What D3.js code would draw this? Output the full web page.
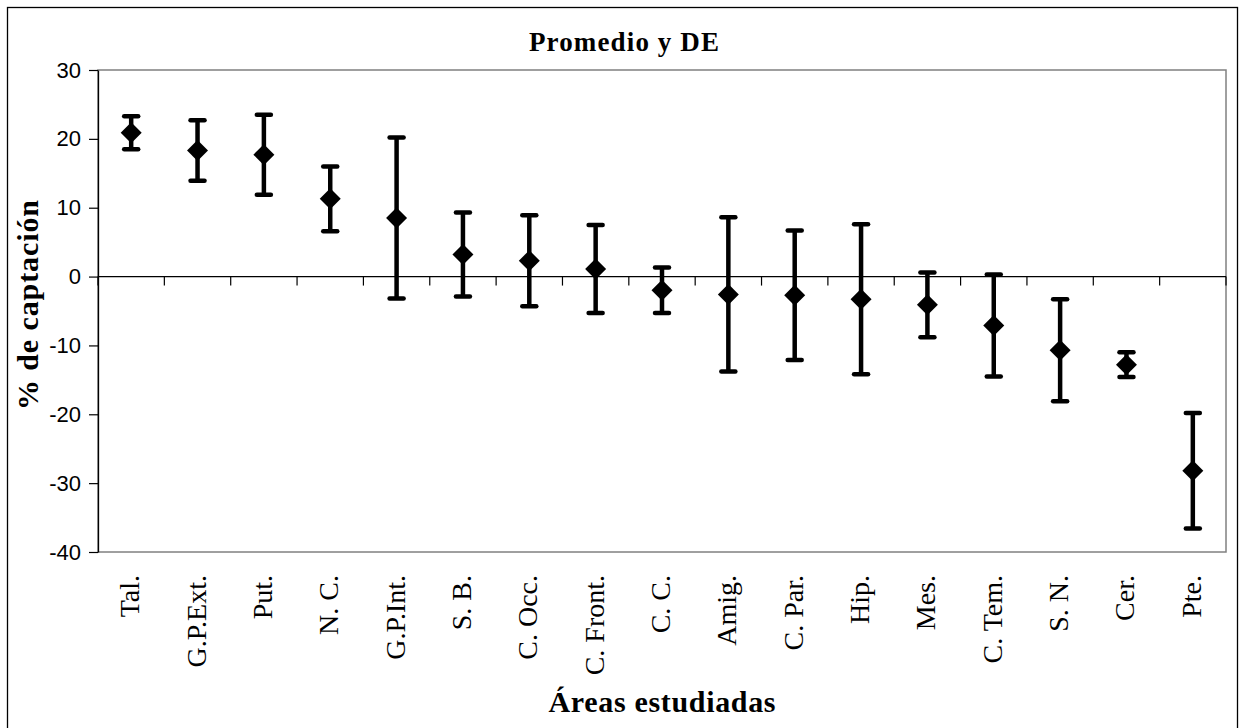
<!DOCTYPE html>
<meta charset="utf-8">
<script src="https://d3js.org/d3.v7.min.js"></script>
<style>
  body { margin: 0; background: #fff; }
</style>
<svg id="chart" width="1242" height="728"></svg>
<script>

  // data
  var categories = ["Tal.", "G.P.Ext.", "Put.", "N. C.", "G.P.Int.", "S. B.", "C. Occ.", "C. Front.", "C. C.",
                    "Amig.", "C. Par.", "Hip.", "Mes.", "C. Tem.", "S. N.", "Cer.", "Pte."];
  var means = [20.9, 18.3, 17.7, 11.3, 8.5, 3.2, 2.3, 1.1, -2.0, -2.6, -2.7, -3.3, -4.1, -7.1, -10.7, -12.8, -28.2];
  var sds   = [2.4, 4.4, 5.8, 4.7, 11.7, 6.1, 6.6, 6.4, 3.3, 11.2, 9.4, 10.9, 4.7, 7.4, 7.4, 1.8, 8.4];
  var yTicks = [30, 20, 10, 0, -10, -20, -30, -40];

  var svg = d3.select("#chart");

  var plotLeft = 98, plotRight = 1226, plotTop = 70, plotBottom = 552;
  var serif = "'Liberation Serif', 'Times New Roman', serif";

  var x = d3.scaleBand()
      .domain(categories)
      .range([plotLeft, plotRight])
      .padding(0);

  var y = d3.scaleLinear()
      .domain([-40, 30])
      .range([plotBottom, plotTop]);

  // outer chart frame (cut at the bottom like the picture)
  svg.append("rect")
      .attr("x", 7.5).attr("y", 7.5)
      .attr("width", 1230).attr("height", 740)
      .attr("fill", "none")
      .attr("stroke", "#000")
      .attr("stroke-width", 1.3);

  // plot area border
  svg.append("rect")
      .attr("x", plotLeft).attr("y", plotTop)
      .attr("width", plotRight - plotLeft).attr("height", plotBottom - plotTop)
      .attr("fill", "none")
      .attr("stroke", "#808080")
      .attr("stroke-width", 1.5);

  // y axis (plain hyphen for negatives, like the picture)
  var yAxis = svg.append("g")
      .attr("transform", "translate(" + plotLeft + ",0)")
      .call(d3.axisLeft(y).tickValues(yTicks).tickFormat(function(d) { return String(d); })
        .tickSize(9).tickPadding(8).tickSizeOuter(0));
  yAxis.select(".domain").attr("stroke", "#000").attr("stroke-width", 1.3);
  yAxis.selectAll(".tick line").attr("stroke", "#000").attr("stroke-width", 1.2);
  yAxis.selectAll("text")
      .style("font-family", "'Liberation Sans', Arial, sans-serif")
      .style("font-size", "22px")
      .attr("fill", "#000");

  // category axis crossing at 0
  var xAxis = svg.append("g")
      .attr("transform", "translate(0," + y(0) + ")");
  xAxis.append("line")
      .attr("x1", plotLeft).attr("x2", plotRight)
      .attr("stroke", "#000").attr("stroke-width", 1.3);
  xAxis.selectAll("line.tk")
      .data(categories.concat(["end"]))
      .enter().append("line")
      .attr("class", "tk")
      .attr("x1", function(d, i) { return i < categories.length ? x(d) : plotRight; })
      .attr("x2", function(d, i) { return i < categories.length ? x(d) : plotRight; })
      .attr("y1", 0).attr("y2", 9)
      .attr("stroke", "#000").attr("stroke-width", 1.2);

  // category labels under the plot
  svg.append("g")
      .selectAll("text")
      .data(categories)
      .enter().append("text")
      .attr("transform", function(d) {
        return "translate(" + (x(d) + x.bandwidth() / 2 + 8) + ",575) rotate(-90)";
      })
      .attr("text-anchor", "end")
      .style("font-family", serif)
      .style("font-size", "28px")
      .text(function(d) { return d; });

  // error bars
  var bars = svg.append("g")
      .selectAll("g")
      .data(categories)
      .enter().append("g");

  bars.append("line")
      .attr("x1", function(d) { return x(d) + x.bandwidth() / 2; })
      .attr("x2", function(d) { return x(d) + x.bandwidth() / 2; })
      .attr("y1", function(d, i) { return y(means[i] + sds[i]); })
      .attr("y2", function(d, i) { return y(means[i] - sds[i]); })
      .attr("stroke", "#000").attr("stroke-width", 4.5);

  [1, -1].forEach(function(s) {
    bars.append("line")
        .attr("x1", function(d) { return x(d) + x.bandwidth() / 2 - 7; })
        .attr("x2", function(d) { return x(d) + x.bandwidth() / 2 + 7; })
        .attr("y1", function(d, i) { return y(means[i] + s * sds[i]); })
        .attr("y2", function(d, i) { return y(means[i] + s * sds[i]); })
        .attr("stroke", "#000").attr("stroke-width", 4.5)
        .attr("stroke-linecap", "round");
  });

  // diamond markers
  var diamond = d3.symbol().type(d3.symbolSquare).size(220);
  bars.append("path")
      .attr("d", diamond)
      .attr("transform", function(d, i) {
        return "translate(" + (x(d) + x.bandwidth() / 2) + "," + y(means[i]) + ") rotate(45)";
      })
      .attr("fill", "#000");

  // titles
  svg.append("text")
      .attr("x", 624).attr("y", 51)
      .attr("text-anchor", "middle")
      .attr("textLength", 190)
      .style("font-family", serif)
      .style("font-weight", "bold")
      .style("font-size", "27px")
      .text("Promedio y DE");

  svg.append("text")
      .attr("x", 662).attr("y", 712)
      .attr("text-anchor", "middle")
      .attr("textLength", 227)
      .style("font-family", serif)
      .style("font-weight", "bold")
      .style("font-size", "30px")
      .text("Áreas estudiadas");

  svg.append("text")
      .attr("transform", "translate(38,305) rotate(-90)")
      .attr("text-anchor", "middle")
      .attr("textLength", 210)
      .style("font-family", serif)
      .style("font-weight", "bold")
      .style("font-size", "30px")
      .text("% de captación");

</script>
